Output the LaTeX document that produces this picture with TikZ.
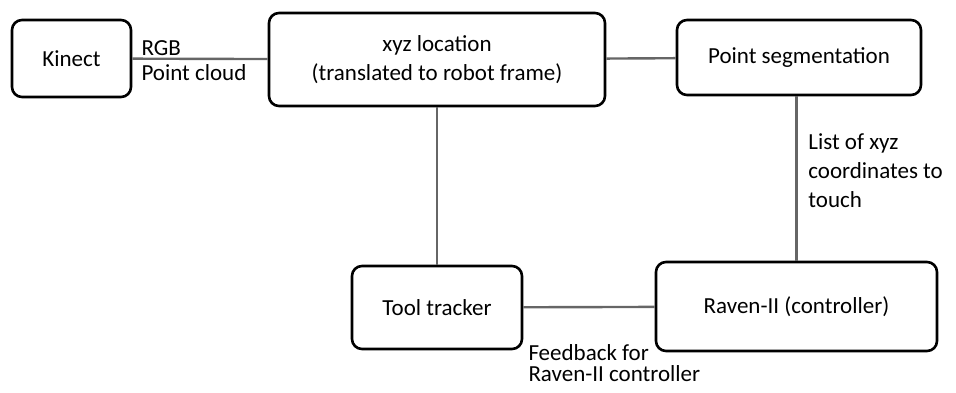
\documentclass[tikz,border=0pt]{standalone}
\usepackage{fontspec}
\setmainfont{Carlito}
\usepackage{tikz}
\usetikzlibrary{positioning,calc}
\usepackage{xcolor}

\definecolor{linegray}{HTML}{666666}

\begin{document}
\begin{tikzpicture}[x=1pt, y=1pt, semithick, node distance=182.5pt,
    block/.style={draw=black, line width=1.3pt, rounded corners=5pt, align=center,
                  font=\fontsize{11.5}{14.5}\selectfont, inner sep=0pt},
    link/.style={draw=linegray, line width=1.2pt},
    lbl/.style={font=\fontsize{11.5}{14.5}\selectfont, align=left, text=black}]
    \useasboundingbox (-35.75,29.25) rectangle (442.25,-166.75);

    \node[block, minimum width=59.5pt, minimum height=38.5pt] (kinect) {Kinect};
    \node[block, minimum width=168pt, minimum height=46.5pt] (xyz) [right of=kinect, node distance=182.75pt, yshift=-0.5pt] {xyz location\\(translated to robot frame)};
    \node[block, minimum width=122pt, minimum height=37.5pt] (seg) [right of=xyz, node distance=181pt, yshift=1pt] {Point segmentation};
    \node[block, minimum width=85pt, minimum height=41.5pt] (tracker) [below of=xyz, node distance=124pt] {Tool tracker};
    \node[block, minimum width=140.5pt, minimum height=44.5pt] (raven) [below of=seg, node distance=124.5pt, xshift=-1.25pt] {Raven-II (controller)};

    \path[link] (kinect) edge node[lbl, pos=0, above right, xshift=3pt, inner sep=1pt] {RGB}
                                node[lbl, pos=0, below right, xshift=1.5pt, inner sep=2.5pt] {Point cloud} (xyz)
                (xyz) edge (seg)
                (xyz) edge (tracker)
                (seg.south -| raven.north) edge node[lbl, right, pos=0.45, xshift=2pt] {List of xyz\\coordinates to\\touch} (raven.north)
                (tracker) edge node[lbl, pos=0, anchor=north west, yshift=-17pt, xshift=1pt, inner sep=1pt, font=\fontsize{11.5}{10.5}\selectfont] {Feedback for\\Raven-II controller} (raven);
\end{tikzpicture}
\end{document}
